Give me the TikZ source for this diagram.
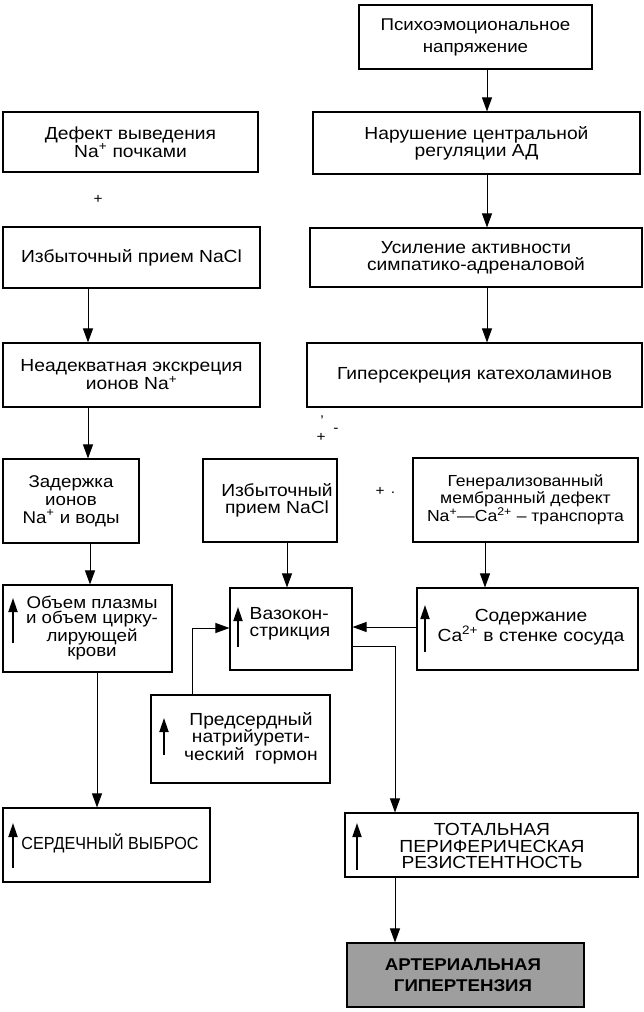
\documentclass[tikz,border=0pt]{standalone}
\usepackage{fontspec}
\usepackage{graphicx}
\setmainfont{Liberation Sans}[FakeStretch=1.1]
\usetikzlibrary{arrows.meta}
\begin{document}
\begin{tikzpicture}[x=1pt,y=-1pt,
  box/.style={draw, line width=1.1pt, inner sep=0pt, align=center, fill=white,
    font=\fontsize{17.5}{17}\selectfont},
  sz/.style 2 args={minimum width=#1pt, minimum height=#2pt},
  txt/.style={inner sep=0pt, align=center, font=\fontsize{17.5}{17}\selectfont},
  arr/.style={line width=0.9pt, -{Triangle[length=14pt,width=10pt]}},
  uparr/.style={line width=1.8pt, -{Triangle[length=14pt,width=9pt]}},
  smallmark/.style={inner sep=0pt, font=\fontsize{14}{14}\selectfont}
]
\useasboundingbox (0,0) rectangle (644,1012);

% right column
\node[box, sz={233}{64}, font=\fontsize{17}{22}\selectfont] (P) at (475.5,37) {Психоэмоциональное\\напряжение};
\node[box, sz={327}{62}] (N) at (476.5,143) {Нарушение центральной\\регуляции АД};
\node[box, sz={332}{59}] (U) at (476,257.5) {Усиление активности\\симпатико-адреналовой};
\node[box, sz={335}{64}] (G) at (474.5,375) {Гиперсекреция катехоламинов};
\coordinate (colR) at (487,0);
\draw[arr] (P.south -| colR) -- (N.north -| colR);
\draw[arr] (N.south -| colR) -- (U.north -| colR);
\draw[arr] (U.south -| colR) -- (G.north -| colR);

% left column
\node[box, sz={255}{60}, font=\fontsize{17.5}{16}\selectfont] (A) at (130.5,142) {Дефект выведения\\Na\textsuperscript{+} почками};
\node[box, sz={257}{61}] (B) at (131.5,257.5) {Избыточный прием NaCl};
\node[box, sz={257}{64}, font=\fontsize{17.5}{16}\selectfont] (C) at (131.5,375) {Неадекватная экскреция\\ионов Na\textsuperscript{+}};
\node[box, sz={136}{84}, font=\fontsize{17}{18}\selectfont] (D) at (71,501) {Задержка\\ионов\\Na\textsuperscript{+} и воды};
\node[box, sz={169}{87}] (E) at (87.5,628.5) {};
\node[txt, font=\fontsize{17}{15.5}\selectfont] (Et) at (92,628) {Объем плазмы\\и объем цирку-\\лирующей\\крови};
\node[box, sz={207}{74}] (S) at (106.5,845) {};
\node[txt] (St) at (110,843) {\scalebox{0.84}[1]{СЕРДЕЧНЫЙ ВЫБРОС}};

\coordinate (colL) at (88,0);
\draw[arr] (B.south -| colL) -- (C.north -| colL);
\draw[arr] (C.south -| colL) -- (D.north -| colL);
\draw[arr] (D.south -| 90,0) -- (E.north -| 90,0);
\draw[arr] (E.south -| 97,0) -- (S.north -| 97,0);

% middle
\node[box, sz={134}{83}] (F) at (270,500.5) {};
\node[txt] (Ft) at (277,500) {Избыточный\\прием NaCl};
\node[box, sz={122}{82}] (V) at (291,629) {};
\node[txt, align=left] (Vt) at (290,624) {Вазокон-\\стрикция};
\node[box, sz={225}{84}, font=\fontsize{16}{14}\selectfont] (H) at (525.5,500) {Генерализованный\\мембранный дефект\\Na\textsuperscript{+}---Ca\textsuperscript{2+} -- транспорта};
\node[box, sz={221}{82}] (I) at (527.5,629) {};
\node[txt, font=\fontsize{17.5}{16}\selectfont] (It) at (531,627) {Содержание\\Ca\textsuperscript{2+} в стенке сосуда};
\node[box, sz={179}{88}] (Pr) at (240.5,739) {};
\node[txt, font=\fontsize{17.5}{16}\selectfont] (Prt) at (251,738) {Предсердный\\натрийурети-\\ческий \ гормон};
\node[box, sz={293}{64}] (T) at (491.5,845) {};
\node[txt, font=\fontsize{17.5}{16.5}\selectfont] (Tt) at (492,846) {ТОТАЛЬНАЯ\\ПЕРИФЕРИЧЕСКАЯ\\РЕЗИСТЕНТНОСТЬ};
\node[box, sz={237}{64}, fill=black!38] (AG) at (465.5,975) {};
\node[txt, font=\fontsize{17}{21}\selectfont\bfseries] (AGt) at (463,975) {АРТЕРИАЛЬНАЯ\\ГИПЕРТЕНЗИЯ};

\draw[arr] (F.south -| 287,0) -- (V.north -| 287,0);
\draw[arr] (H.south -| 485,0) -- (I.north -| 485,0);
\draw[arr] (I.west |- 0,627) -- (V.east |- 0,627);
\coordinate (bend1) at (395,646);
\draw[arr] (V.east |- bend1) -- (bend1) -- (T.north -| bend1);
\draw[arr] (T.south -| bend1) -- (AG.north -| bend1);
\coordinate (bend2) at (192,628);
\draw[arr] (Pr.north -| bend2) -- (bend2) -- (V.west |- bend2);

% up arrows inside boxes
\draw[uparr] (13,643) -- (13,598);
\draw[uparr] (238,647) -- (238,607);
\draw[uparr] (425,652) -- (425,605);
\draw[uparr] (164,755) -- (164,718);
\draw[uparr] (357,870) -- (357,823);
\draw[uparr] (13,868) -- (13,823);

% small marks
\node[smallmark] (m1) at (98,199) {+};
\node[smallmark] (m2) at (321,437) {+};
\node[smallmark] (m3) at (336,430) {-};
\node[smallmark] (m4) at (322,421) {'};
\node[smallmark] (m5) at (380,491) {+};
\node[smallmark] (m6) at (393,493) {.};
\end{tikzpicture}
\end{document}
